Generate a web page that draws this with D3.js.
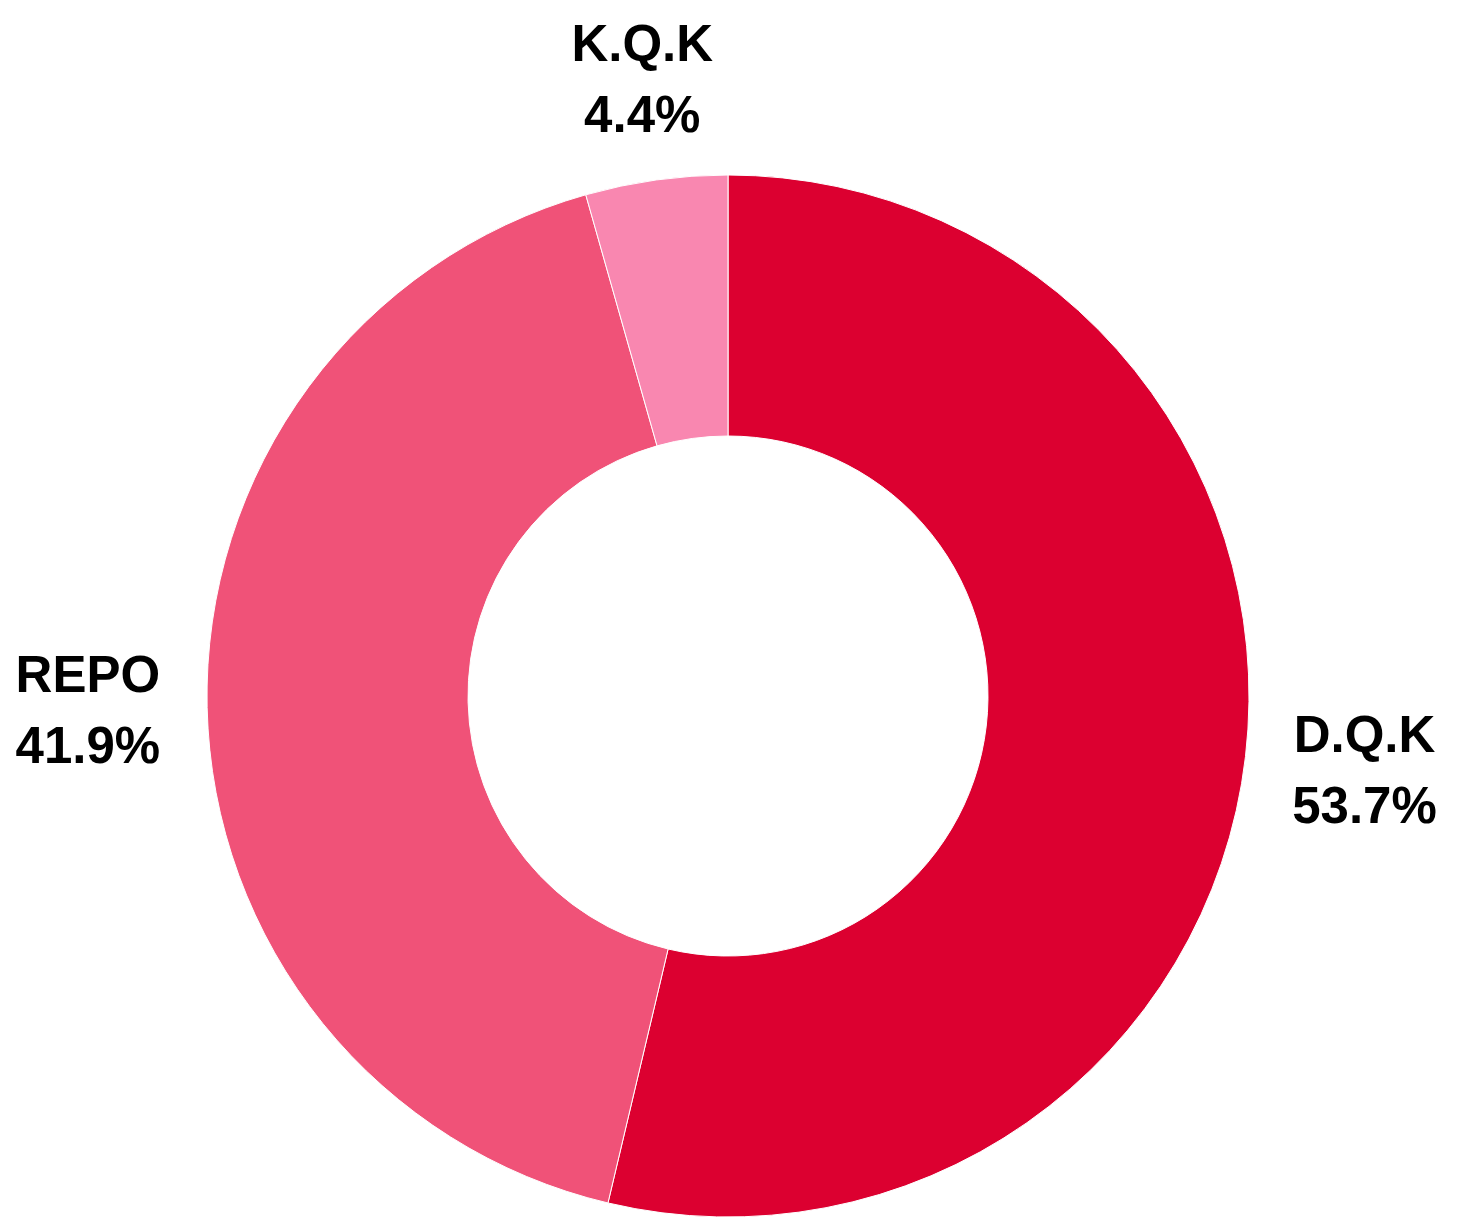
<!DOCTYPE html>
<html>
<head>
<meta charset="utf-8">
<script src="https://cdn.jsdelivr.net/npm/d3@7"></script>
<style>
  html, body { margin: 0; padding: 0; background: #fff; }
  svg { display: block; }
  .label { font-family: "Liberation Sans", Arial, sans-serif; font-weight: bold; font-size: 51px; fill: #000; }
</style>
</head>
<body>
<svg width="1468" height="1219"></svg>
<script>
const categories = ['D.Q.K', 'REPO', 'K.Q.K']
const shares = [53.7, 41.9, 4.4]
const colors = ['#DC0030', '#F05278', '#F987B0']

const width = 1468
const height = 1219
const cx = 728
const cy = 696
const outerR = 521
const innerR = 260
const labelEdge = 568

const svg = d3.select('svg')
const g = svg.append('g').attr('transform', `translate(${cx}, ${cy})`)

const data = categories.map((c, i) => ({ name: c, value: shares[i], color: colors[i] }))

const pie = d3.pie().value(d => d.value).sort(null)
const arc = d3.arc().innerRadius(innerR).outerRadius(outerR)
const arcs = pie(data)

g.selectAll('path.slice')
    .data(arcs)
    .enter()
    .append('path')
    .attr('class', 'slice')
    .attr('d', arc)
    .attr('fill', d => d.data.color)
    .attr('stroke', '#fff')
    .attr('stroke-width', 1)

// labels: two lines, pushed outward so the box sits just past labelEdge
const labels = g.selectAll('g.lab')
    .data(arcs)
    .enter()
    .append('g')
    .attr('class', 'lab')

labels.append('text')
    .attr('class', 'label')
    .attr('text-anchor', 'middle')
    .attr('y', -18)
    .text(d => d.data.name)

labels.append('text')
    .attr('class', 'label')
    .attr('text-anchor', 'middle')
    .attr('y', 53)
    .text(d => d.data.value.toFixed(1) + '%')

labels.each(function (d) {
    const node = d3.select(this)
    const box = this.getBBox()
    const a = (d.startAngle + d.endAngle) / 2
    const ux = Math.sin(a)
    const uy = -Math.cos(a)
    const hw = box.width / 2
    const hh = 54
    const t = Math.min(
        Math.abs(ux) > 1e-6 ? hw / Math.abs(ux) : Infinity,
        Math.abs(uy) > 1e-6 ? hh / Math.abs(uy) : Infinity
    )
    const r = labelEdge + t
    // text block is centred around y = 0 (cap top ~ -55, last baseline 53)
    node.attr('transform', `translate(${ux * r}, ${uy * r})`)
})
</script>
</body>
</html>
